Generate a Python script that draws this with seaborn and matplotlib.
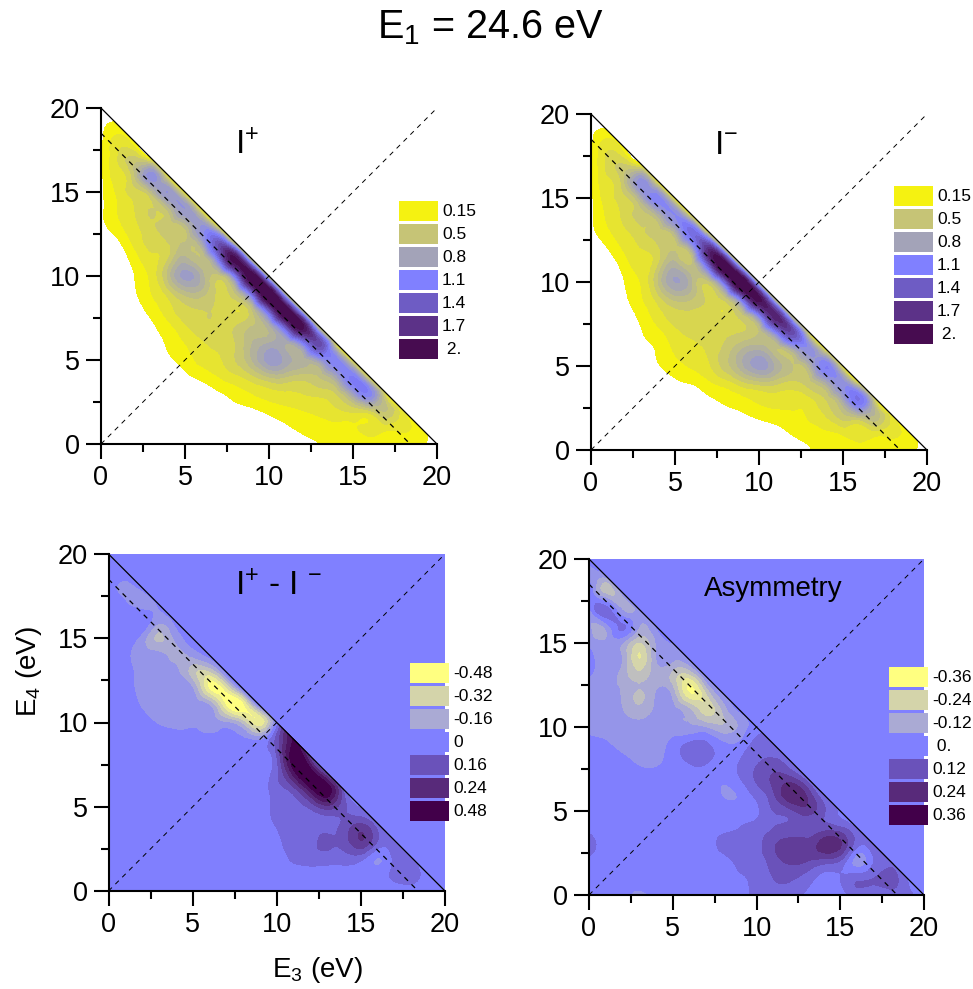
import matplotlib

matplotlib.use("Agg")
import matplotlib.pyplot as plt
import matplotlib.tri as mtri
import numpy as np
import seaborn as sns
from matplotlib.patches import Rectangle

# values, rows run from E4 = 20 down to E4 = 0, columns from E3 = 0
I_PLUS = [
    [.10],
    [.13, .17],
    [.12, .30, .16],
    [.12, .35, .48, .17],
    [.12, .30, .55, 1.0, .18],
    [.12, .27, .40, .60, .95, .18],
    [.12, .25, .35, .45, .60, .95, .18],
    [.12, .22, .33, .42, .50, .60, .95, .20],
    [.05, .13, .28, .38, .45, .55, .80, 1.5, .22],
    [0, .07, .20, .32, .45, .68, .55, 1.2, 2.1, .25],
    [0, .03, .15, .28, .58, .88, .70, .50, 1.2, 2.2, .30],
    [0, 0, .13, .25, .40, .60, .60, .42, .55, 1.4, 2.3, .30],
    [0, 0, .07, .20, .30, .42, .45, .42, .35, .55, 1.5, 2.2, .30],
    [0, 0, .01, .12, .22, .33, .42, .42, .45, .55, .70, 1.5, 2.1, .25],
    [0, 0, 0, .07, .17, .25, .33, .38, .45, .65, .75, .75, 1.1, 1.6, .22],
    [0, 0, 0, 0, .11, .20, .28, .33, .45, .65, .90, .80, .70, .90, 1.1, .22],
    [0, 0, 0, 0, 0, .11, .18, .25, .32, .42, .55, .55, .50, .55, .80, 1.15, .22],
    [0, 0, 0, 0, 0, 0, .07, .13, .20, .25, .30, .33, .35, .38, .45, .85, 1.1, .25],
    [0, 0, 0, 0, 0, 0, 0, .03, .09, .13, .18, .22, .25, .28, .33, .38, .45, .55, .25],
    [0, 0, 0, 0, 0, 0, 0, 0, 0, .03, .08, .13, .18, .20, .22, .23, .28, .30, .28, .20],
    [0, 0, 0, 0, 0, 0, 0, 0, 0, 0, 0, .03, .10, .15, .16, .16, .16, .16, .18, .20, 0],
]
I_MINUS = [
    [.10],
    [.13, .17],
    [.12, .33, .16],
    [.12, .38, .45, .18],
    [.12, .33, .55, 1.0, .18],
    [.12, .30, .42, .75, 1.1, .18],
    [.12, .27, .38, .50, .70, 1.05, .18],
    [.12, .23, .33, .42, .50, .70, 1.3, .20],
    [.05, .15, .27, .35, .43, .52, .80, 1.8, .22],
    [0, .07, .20, .30, .45, .70, .55, 1.4, 2.2, .25],
    [0, .02, .15, .26, .55, .85, .65, .50, 1.4, 2.3, .30],
    [0, 0, .12, .24, .40, .58, .55, .42, .50, 1.3, 2.1, .28],
    [0, 0, .06, .19, .30, .40, .42, .40, .36, .50, 1.1, 1.9, .27],
    [0, 0, .01, .14, .22, .32, .38, .40, .42, .45, .55, 1.1, 1.6, .24],
    [0, 0, 0, .08, .17, .26, .30, .37, .48, .65, .72, .55, .75, 1.0, .22],
    [0, 0, 0, 0, .13, .22, .26, .33, .50, .72, .90, .72, .55, .70, 1.15, .22],
    [0, 0, 0, 0, 0, .11, .16, .23, .30, .42, .50, .48, .42, .50, .75, 1.0, .22],
    [0, 0, 0, 0, 0, 0, .05, .12, .18, .22, .27, .30, .30, .32, .45, .80, 1.25, .25],
    [0, 0, 0, 0, 0, 0, 0, .01, .07, .12, .17, .20, .22, .26, .35, .50, .60, .60, .25],
    [0, 0, 0, 0, 0, 0, 0, 0, 0, .02, .06, .10, .16, .20, .23, .27, .30, .30, .28, .20],
    [0, 0, 0, 0, 0, 0, 0, 0, 0, 0, 0, 0, .05, .14, .16, .16, .16, .16, .18, .20, 0],
]
I_DIFF = [
    [0],
    [0, 0],
    [0, -.06, -.02],
    [0, -.03, -.07, -.03],
    [0, 0, .02, -.10, -.02],
    [0, 0, -.08, -.22, -.10, -.01],
    [0, -.02, -.08, -.10, -.15, -.10, -.01],
    [0, -.01, -.08, -.10, -.10, -.25, -.30, -.01],
    [0, 0, -.07, -.08, -.08, -.12, -.45, -.40, -.01],
    [0, 0, -.05, -.08, -.07, -.08, -.12, -.45, -.48, -.03],
    [0, 0, -.01, -.05, -.06, -.06, -.07, -.12, -.25, -.42, 0],
    [0, 0, 0, 0, -.01, -.01, -.01, -.01, -.03, -.06, .15, .45],
    [0, 0, 0, 0, 0, 0, 0, 0, 0, .01, .12, .50, .20],
    [0, 0, 0, 0, 0, 0, 0, 0, 0, .01, .10, .40, .50, .15],
    [0, 0, 0, 0, 0, 0, 0, 0, 0, 0, .08, .16, .40, .50, .10],
    [0, 0, 0, 0, 0, 0, 0, 0, 0, 0, .07, .10, .14, .25, .14, .03],
    [0, 0, 0, 0, 0, 0, 0, 0, 0, 0, .05, .08, .08, .09, .14, .20, .06],
    [0, 0, 0, 0, 0, 0, 0, 0, 0, 0, .02, .08, .09, .14, .16, .28, .12, .10],
    [0, 0, 0, 0, 0, 0, 0, 0, 0, 0, 0, .06, .08, .08, .08, .08, -.04, .06, .05],
    [0, 0, 0, 0, 0, 0, 0, 0, 0, 0, 0, 0, 0, .02, .02, .01, 0, .06, .07, 0],
    [0, 0, 0, 0, 0, 0, 0, 0, 0, 0, 0, 0, 0, 0, 0, 0, 0, 0, 0, 0, 0],
]
ASYMMETRY = [
    [0],
    [-.07, -.07],
    [.04, -.17, -.07],
    [-.06, .06, -.10, -.06],
    [-.08, -.07, .04, -.09, -.03],
    [-.05, -.08, -.09, -.22, -.09, -.03],
    [0, -.05, -.10, -.27, -.10, -.08, -.03],
    [-.03, -.06, -.12, -.18, -.13, -.18, -.25, -.03],
    [-.07, -.08, -.10, -.16, -.09, -.12, -.33, -.22, -.04],
    [-.07, -.07, -.09, -.13, -.08, -.08, -.14, -.25, -.14, -.02],
    [-.06, -.07, -.07, -.07, -.07, -.07, -.08, -.10, -.14, -.08, 0],
    [0, -.02, -.06, -.07, -.06, -.01, .04, .04, -.02, -.02, .05, .05],
    [0, 0, -.01, -.05, -.05, 0, .04, .04, 0, .03, .08, .10, .05],
    [0, 0, 0, 0, 0, 0, 0, 0, -.02, .03, .10, .16, .16, .05],
    [0, 0, 0, 0, 0, 0, 0, 0, -.035, -.02, .05, .14, .26, .20, .03],
    [0, 0, 0, 0, 0, 0, 0, 0, 0, 0, .02, .09, .13, .18, .10, .02],
    [0, 0, 0, 0, 0, 0, 0, 0, .01, .03, .05, .09, .11, .11, .12, .10, .02],
    [.08, 0, 0, 0, 0, 0, 0, 0, .05, .06, .07, .14, .17, .18, .24, .22, .05, .08],
    [0, 0, 0, 0, 0, 0, 0, 0, 0, .05, .06, .12, .16, .15, .12, .08, -.06, .03, .07],
    [0, 0, 0, 0, 0, 0, 0, 0, 0, .02, .05, .09, .10, .06, .01, .03, .07, .09, .11, .03],
    [0, 0, 0, -.05, 0, 0, 0, 0, 0, 0, .05, .07, .06, .02, 0, 0, .05, .05, .06, .05, 0],
]

INTENSITY_COLORS = ["#F5F211", "#C6C476", "#A3A3B8", "#8080FF", "#6E5CC4", "#5C3288", "#470C50"]
SIGNED_COLORS = ["#FFFF80", "#D4D4AA", "#AAAAD4", "#8080FF", "#6A52BA", "#582A7A", "#42004A"]

INTENSITY_LABELS = ["0.15", "0.5", "0.8", "1.1", "1.4", "1.7", " 2."]
DIFF_LABELS = ["-0.48", "-0.32", "-0.16", "0", "0.16", "0.24", "0.48"]
ASYM_LABELS = ["-0.36", "-0.24", "-0.12", " 0.", "0.12", "0.24", "0.36"]

WIDTH, HEIGHT = 973, 989
BACKGROUND = "#8080FF"
FONT = "Liberation Sans"


def px(x, y):
    return x / WIDTH, 1 - y / HEIGHT


def build_points(rows):
    e3, e4, z = [], [], []
    for top, row in zip(range(20, -1, -1), rows):
        assert len(row) == 21 - top, top
        for col, value in enumerate(row):
            e3.append(col)
            e4.append(top)
            z.append(value)
    return np.array(e3, float), np.array(e4, float), np.array(z, float)


def draw_panel(fig, box, rows, levels, colors, extend, filled):
    left, top, right, bottom = box
    x0, y1 = px(left, bottom)
    ax = fig.add_axes([x0, y1, (right - left) / WIDTH, (bottom - top) / HEIGHT])
    if filled:
        ax.set_facecolor(BACKGROUND)

    e3, e4, z = build_points(rows)
    tri = mtri.Triangulation(e3, e4)
    fine_tri, fine_z = mtri.UniformTriRefiner(tri).refine_field(z, subdiv=3)
    ax.tricontourf(fine_tri, fine_z, levels=levels, colors=colors, extend=extend, zorder=1)

    ax.plot([0, 20], [20, 0], color="black", lw=0.9, zorder=3)
    ax.plot([0, 18.4], [18.5, 0], color="black", lw=0.9, dashes=(4, 4), zorder=3)
    ax.plot([0, 20], [0, 20], color="black", lw=0.7, dashes=(5, 5), zorder=3)

    ax.set_xlim(0, 20)
    ax.set_ylim(0, 20)
    ax.set_xticks([0, 5, 10, 15, 20])
    ax.set_yticks([0, 5, 10, 15, 20])
    ax.set_xticks([2.5, 7.5, 12.5, 17.5], minor=True)
    ax.set_yticks([2.5, 7.5, 12.5, 17.5], minor=True)
    ax.tick_params(which="major", length=11, width=1.5, labelsize=19.5, pad=4, direction="out")
    ax.tick_params(which="minor", length=6, width=1.5, direction="out")
    sns.despine(ax=ax)
    for side in ("left", "bottom"):
        ax.spines[side].set_linewidth(1.5)
        ax.spines[side].set_zorder(4)
    return ax


def draw_legend(fig, left, top, colors, labels):
    for i, (color, label) in enumerate(zip(colors, labels)):
        y = top + 23 * i
        x0, y0 = px(left, y + 20)
        fig.add_artist(
            Rectangle((x0, y0), 39 / WIDTH, 20 / HEIGHT, transform=fig.transFigure, color=color, lw=0)
        )
        tx, ty = px(left + 43, y + 10.5)
        fig.text(tx, ty, label, fontsize=12.5, va="center", ha="left")


sns.set_style("ticks")
plt.rcParams["font.family"] = [FONT, "DejaVu Sans"]
plt.rcParams["mathtext.fontset"] = "custom"
plt.rcParams["mathtext.rm"] = FONT
plt.rcParams["mathtext.default"] = "regular"
plt.rcParams["text.color"] = "black"
plt.rcParams["xtick.color"] = "black"
plt.rcParams["ytick.color"] = "black"
plt.rcParams["axes.edgecolor"] = "black"

intensity_levels = np.round(np.arange(0.15, 2.06, 0.1), 2)
intensity_palette = sns.blend_palette(INTENSITY_COLORS, n_colors=len(intensity_levels))
diff_levels = np.round(np.arange(-0.52, 0.53, 0.08), 2)
diff_palette = sns.blend_palette(SIGNED_COLORS, n_colors=len(diff_levels) - 1)
asym_levels = np.round(np.arange(-0.39, 0.40, 0.06), 2)
asym_palette = sns.blend_palette(SIGNED_COLORS, n_colors=len(asym_levels) - 1)

fig = plt.figure(figsize=(WIDTH / 100, HEIGHT / 100), dpi=100)

draw_panel(fig, (101, 108, 437, 444), I_PLUS, intensity_levels, intensity_palette, "max", False)
draw_panel(fig, (591, 114, 927, 450), I_MINUS, intensity_levels, intensity_palette, "max", False)
draw_panel(fig, (108.5, 554, 445, 891), I_DIFF, diff_levels, diff_palette, "both", True)
draw_panel(fig, (589, 559, 924, 895), ASYMMETRY, asym_levels, asym_palette, "both", True)

draw_legend(fig, 399, 201, INTENSITY_COLORS, INTENSITY_LABELS)
draw_legend(fig, 894, 186, INTENSITY_COLORS, INTENSITY_LABELS)
draw_legend(fig, 410, 663, SIGNED_COLORS, DIFF_LABELS)
draw_legend(fig, 889, 667, SIGNED_COLORS, ASYM_LABELS)

fig.text(*px(490, 38), r"E$_{1}$ = 24.6 eV", fontsize=28.5, ha="center", va="baseline")
fig.text(*px(235, 154), r"I$^{+}$", fontsize=24, ha="left", va="baseline")
fig.text(*px(714, 154), r"I$^{-}$", fontsize=24, ha="left", va="baseline")
fig.text(*px(235, 595), r"I$^{+}$ - I $^{-}$", fontsize=24, ha="left", va="baseline")
fig.text(*px(704, 596), "Asymmetry", fontsize=20, ha="left", va="baseline")
fig.text(*px(317, 977), r"E$_{3}$ (eV)", fontsize=20, ha="center", va="baseline")
fig.text(*px(29, 672), r"E$_{4}$ (eV)", fontsize=20, ha="center", va="center", rotation=90)

fig.savefig("out.png", dpi=100)
